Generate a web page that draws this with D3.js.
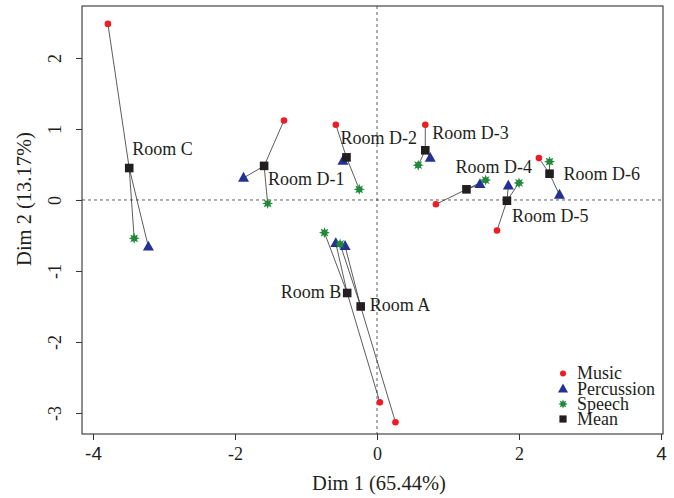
<!DOCTYPE html>
<html>
<head>
<meta charset="utf-8">
<script src="https://cdn.jsdelivr.net/npm/d3@7"></script>
<style>
  html, body { margin: 0; padding: 0; background: #fff; }
  svg { display: block; }
</style>
</head>
<body>
<svg id="chart" width="674" height="498"></svg>
<script>
// ---- data ----
const rooms   = ["Room A", "Room B", "Room C", "Room D-1", "Room D-2", "Room D-3", "Room D-4", "Room D-5", "Room D-6"];
const musicX  = [0.26, 0.04, -3.79, -1.31, -0.58, 0.68, 0.83, 1.69, 2.28];
const musicY  = [-3.13, -2.85, 2.48, 1.12, 1.06, 1.06, -0.06, -0.43, 0.59];
const percX   = [-0.45, -0.58, -3.22, -1.88, -0.48, 0.75, 1.45, 1.85, 2.57];
const percY   = [-0.65, -0.61, -0.66, 0.31, 0.55, 0.59, 0.22, 0.20, 0.07];
const speechX = [-0.52, -0.74, -3.42, -1.54, -0.25, 0.58, 1.53, 2.00, 2.43];
const speechY = [-0.62, -0.46, -0.54, -0.05, 0.15, 0.49, 0.28, 0.24, 0.54];
const meanX   = [-0.23, -0.42, -3.49, -1.59, -0.43, 0.68, 1.26, 1.83, 2.43];
const meanY   = [-1.50, -1.31, 0.45, 0.48, 0.60, 0.70, 0.15, -0.01, 0.37];
const xTicks  = [-4, -2, 0, 2, 4];
const yTicks  = [-3, -2, -1, 0, 1, 2];
const legendLabels = ["Music", "Percussion", "Speech", "Mean"];
const xTitle = "Dim 1 (65.44%)";
const yTitle = "Dim 2 (13.17%)";

// ---- layout (pixel offsets for room labels, not data) ----
const labelLayout = [
  {dx: 9,  dy: 5,   anchor: "start"},
  {dx: -6, dy: 5,   anchor: "end"},
  {dx: 3,  dy: -13, anchor: "start"},
  {dx: 4,  dy: 19,  anchor: "start"},
  {dx: -6, dy: -13, anchor: "start"},
  {dx: 7,  dy: -11, anchor: "start"},
  {dx: -11, dy: -16, anchor: "start"},
  {dx: 5,  dy: 21,  anchor: "start"},
  {dx: 14, dy: 6,   anchor: "start"}
];

const COL = {music: "#ee1c25", perc: "#233094", speech: "#22893b", mean: "#231f20"};
const SERIF = "'Liberation Serif', 'Times New Roman', serif";

const svg = d3.select("#chart");
const L = 82, R = 663, T = 6, B = 434;
const x = d3.scaleLinear().domain([-4.155, 4.028]).range([L, R]);
const y = d3.scaleLinear().domain([-3.296, 2.732]).range([B, T]);

// reference dashed lines
svg.append("line").attr("x1", L).attr("x2", R).attr("y1", y(0)).attr("y2", y(0))
  .attr("stroke", "#333").attr("stroke-width", 0.8).attr("stroke-dasharray", "3,3");
svg.append("line").attr("x1", x(0)).attr("x2", x(0)).attr("y1", T).attr("y2", B)
  .attr("stroke", "#333").attr("stroke-width", 0.8).attr("stroke-dasharray", "3,3");

// box
svg.append("rect").attr("x", L).attr("y", T).attr("width", R - L).attr("height", B - T)
  .attr("fill", "none").attr("stroke", "#333").attr("stroke-width", 1.1);

// axes
const xAxis = d3.axisBottom(x).tickValues(xTicks).tickSize(6).tickPadding(7).tickFormat(d3.format("d"));
const gx = svg.append("g").attr("transform", `translate(0,${B})`).call(xAxis);
gx.select(".domain").remove();
gx.selectAll(".tick line").attr("stroke", "#333");
gx.selectAll(".tick text").attr("font-family", d => Math.abs(d) === 4 ? "'Liberation Sans', Arial, sans-serif" : SERIF)
  .attr("font-size", d => Math.abs(d) === 4 ? 19 : 18).attr("fill", "#231f20")
  .text(d => d < 0 ? "-" + Math.abs(d) : String(d));

const yAxis = d3.axisLeft(y).tickValues(yTicks).tickSize(6).tickPadding(0).tickFormat(d3.format("d"));
const gy = svg.append("g").attr("transform", `translate(${L},0)`).call(yAxis);
gy.select(".domain").remove();
gy.selectAll(".tick line").attr("stroke", "#333");
gy.selectAll(".tick text")
  .attr("x", null).attr("dy", null)
  .attr("text-anchor", "middle")
  .attr("transform", "translate(-21,0) rotate(-90)")
  .attr("y", 0)
  .attr("font-family", SERIF).attr("font-size", 18).attr("fill", "#231f20")
  .text(d => d < 0 ? "-" + Math.abs(d) : String(d));

// axis titles
svg.append("text").attr("x", 379).attr("y", 490).attr("text-anchor", "middle")
  .attr("font-family", SERIF).attr("font-size", 20.5).attr("fill", "#231f20").text(xTitle);
svg.append("text").attr("transform", "translate(31,199) rotate(-90)").attr("text-anchor", "middle")
  .attr("font-family", SERIF).attr("font-size", 20.5).attr("fill", "#231f20").text(yTitle);

// connecting lines mean -> each point
const segs = [];
rooms.forEach((r, i) => {
  segs.push([meanX[i], meanY[i], musicX[i], musicY[i]]);
  segs.push([meanX[i], meanY[i], percX[i], percY[i]]);
  segs.push([meanX[i], meanY[i], speechX[i], speechY[i]]);
});
svg.append("g").selectAll("line").data(segs).join("line")
  .attr("x1", d => x(d[0])).attr("y1", d => y(d[1]))
  .attr("x2", d => x(d[2])).attr("y2", d => y(d[3]))
  .attr("stroke", "#333").attr("stroke-width", 0.8);

// marker shapes
function starPath(ro, ri, n) {
  let p = "";
  for (let k = 0; k < 2 * n; k++) {
    const r = k % 2 === 0 ? ro : ri;
    const a = -Math.PI / 2 + k * Math.PI / n;
    p += (k === 0 ? "M" : "L") + (r * Math.cos(a)).toFixed(2) + "," + (r * Math.sin(a)).toFixed(2);
  }
  return p + "Z";
}
function triPath(s) {
  const h = s * 0.9;
  return `M0,${-h * 0.62}L${s / 2},${h * 0.38}L${-s / 2},${h * 0.38}Z`;
}
const idx = rooms.map((r, i) => i);

svg.append("g").selectAll("circle").data(idx).join("circle")
  .attr("cx", i => x(musicX[i])).attr("cy", i => y(musicY[i])).attr("r", 3.3).attr("fill", COL.music);
svg.append("g").selectAll("path").data(idx).join("path")
  .attr("transform", i => `translate(${x(percX[i])},${y(percY[i])})`)
  .attr("d", triPath(11)).attr("fill", COL.perc);
svg.append("g").selectAll("path").data(idx).join("path")
  .attr("transform", i => `translate(${x(speechX[i])},${y(speechY[i])})`)
  .attr("d", starPath(5.5, 2.8, 8)).attr("fill", COL.speech);
svg.append("g").selectAll("rect").data(idx).join("rect")
  .attr("x", i => x(meanX[i]) - 4.3).attr("y", i => y(meanY[i]) - 4.3)
  .attr("width", 8.6).attr("height", 8.6).attr("fill", COL.mean);

// room labels
svg.append("g").selectAll("text").data(idx).join("text")
  .attr("x", i => x(meanX[i]) + labelLayout[i].dx)
  .attr("y", i => y(meanY[i]) + labelLayout[i].dy)
  .attr("text-anchor", i => labelLayout[i].anchor)
  .attr("font-family", SERIF).attr("font-size", 18).attr("fill", "#231f20")
  .text(i => rooms[i]);

// legend
const lg = svg.append("g");
const lx = 563, tx = 577, baseY = [379, 394.5, 409.5, 424.5];
legendLabels.forEach((lab, k) => {
  const cy = baseY[k] - 5.5;
  if (k === 0) lg.append("circle").attr("cx", lx).attr("cy", cy).attr("r", 3).attr("fill", COL.music);
  if (k === 1) lg.append("path").attr("transform", `translate(${lx},${cy})`).attr("d", triPath(10)).attr("fill", COL.perc);
  if (k === 2) lg.append("path").attr("transform", `translate(${lx},${cy})`).attr("d", starPath(4.8, 2.4, 8)).attr("fill", COL.speech);
  if (k === 3) lg.append("rect").attr("x", lx - 3.6).attr("y", cy - 3.6).attr("width", 7.2).attr("height", 7.2).attr("fill", COL.mean);
  lg.append("text").attr("x", tx).attr("y", baseY[k]).attr("font-family", SERIF)
    .attr("font-size", 18).attr("fill", "#231f20").text(lab);
});
</script>
</body>
</html>
